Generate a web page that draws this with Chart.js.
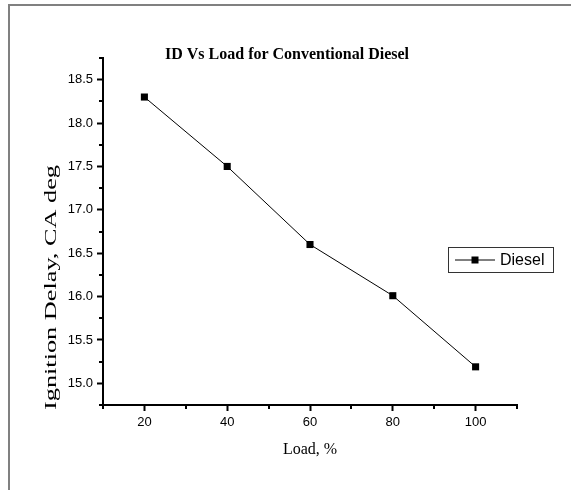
<!DOCTYPE html>
<html>
<head>
<meta charset="utf-8">
<script src="https://cdn.jsdelivr.net/npm/chart.js@4.4.1/dist/chart.umd.min.js"></script>
<style>
html, body { margin: 0; padding: 0; background: #ffffff; }
#wrap { width: 571px; height: 490px; }
canvas { display: block; }
</style>
</head>
<body>
<div id="wrap"><canvas id="c" width="571" height="490"></canvas></div>
<script>
// ---- data ----
const loads = [20, 40, 60, 80, 100];
const dieselID = [18.3, 17.5, 16.6, 16.01, 15.19];
const xMajorTicks = [20, 40, 60, 80, 100];
const xMinorTicks = [10, 30, 50, 70, 90, 110];
const yMajorTicks = [15.0, 15.5, 16.0, 16.5, 17.0, 17.5, 18.0, 18.5];
const yMinorTicks = [14.75, 15.25, 15.75, 16.25, 16.75, 17.25, 17.75, 18.25, 18.75];
const chartTitle = 'ID Vs Load for Conventional Diesel';
const xAxisTitle = 'Load, %';
const yAxisTitle = 'Ignition Delay, CA deg';
const seriesName = 'Diesel';

const SANS = '"Liberation Sans", Arial, sans-serif';
const SERIF = '"Liberation Serif", "Times New Roman", serif';

const decor = {
  id: 'decor',
  beforeDraw(chart) {
    const ctx = chart.ctx;
    ctx.save();
    ctx.fillStyle = '#ffffff';
    ctx.fillRect(0, 0, chart.width, chart.height);
    // outer frame (top and left)
    ctx.strokeStyle = '#808080';
    ctx.lineWidth = 2;
    ctx.beginPath();
    ctx.moveTo(9, chart.height);
    ctx.lineTo(9, 5);
    ctx.lineTo(chart.width, 5);
    ctx.stroke();
    ctx.restore();
  },
  afterDraw(chart) {
    const ctx = chart.ctx;
    const xs = chart.scales.x, ys = chart.scales.y;
    const area = chart.chartArea;
    ctx.save();
    // minor ticks
    ctx.strokeStyle = '#000';
    ctx.lineWidth = 2;
    ctx.beginPath();
    yMinorTicks.forEach(v => {
      const py = Math.round(ys.getPixelForValue(v));
      ctx.moveTo(area.left, py);
      ctx.lineTo(area.left - 4, py);
    });
    xMinorTicks.forEach(v => {
      const px = Math.round(xs.getPixelForValue(v));
      ctx.moveTo(px, area.bottom);
      ctx.lineTo(px, area.bottom + 4);
    });
    ctx.stroke();

    // title
    ctx.fillStyle = '#000';
    ctx.font = 'bold 16px ' + SERIF;
    ctx.textAlign = 'center';
    ctx.textBaseline = 'alphabetic';
    ctx.fillText(chartTitle, 287, 59);

    // y axis title (elongated along its direction as in the reference)
    ctx.save();
    ctx.font = '17px ' + SERIF;
    ctx.translate(52, 410);
    ctx.rotate(-Math.PI / 2);
    const w = ctx.measureText(yAxisTitle).width;
    ctx.scale(245 / w, 1);
    ctx.textAlign = 'left';
    ctx.textBaseline = 'middle';
    ctx.fillText(yAxisTitle, 0, 0);
    ctx.restore();

    // legend
    const ds = chart.data.datasets[0];
    const bx = 448, by = 247, bw = 105, bh = 25;
    ctx.fillStyle = '#fff';
    ctx.fillRect(bx, by, bw, bh);
    ctx.strokeStyle = '#333';
    ctx.lineWidth = 1;
    ctx.strokeRect(bx + 0.5, by + 0.5, bw, bh);
    const cy = by + bh / 2 + 0.5;
    ctx.strokeStyle = ds.borderColor;
    ctx.lineWidth = ds.borderWidth;
    ctx.beginPath();
    ctx.moveTo(455, cy);
    ctx.lineTo(495, cy);
    ctx.stroke();
    ctx.fillStyle = ds.pointBackgroundColor;
    ctx.fillRect(475 - 3.5, cy - 3.5, 7, 7);
    ctx.fillStyle = '#000';
    ctx.font = '16px ' + SANS;
    ctx.textAlign = 'left';
    ctx.textBaseline = 'middle';
    ctx.fillText(ds.label, 500, cy + 1);
    ctx.restore();
  }
};

new Chart(document.getElementById('c'), {
  type: 'line',
  data: {
    datasets: [{
      label: seriesName,
      data: loads.map((x, i) => ({ x: x, y: dieselID[i] })),
      borderColor: '#000000',
      borderWidth: 1,
      backgroundColor: '#000000',
      pointBackgroundColor: '#000000',
      pointBorderWidth: 0,
      pointStyle: 'rect',
      pointRadius: 5,
      tension: 0,
      fill: false
    }]
  },
  options: {
    responsive: false,
    animation: false,
    devicePixelRatio: 1,
    layout: { padding: { left: 0, right: 54, top: 58, bottom: 0 } },
    plugins: {
      legend: { display: false },
      title: { display: false },
      tooltip: { enabled: false }
    },
    scales: {
      x: {
        type: 'linear',
        min: 10,
        max: 110,
        afterBuildTicks: s => { s.ticks = xMajorTicks.map(v => ({ value: v })); },
        afterFit: s => { s.height = 85; },
        border: { display: true, color: '#000', width: 2 },
        grid: { display: true, drawOnChartArea: false, drawTicks: true, tickLength: 6, tickWidth: 2, tickColor: '#000' },
        ticks: { color: '#000', font: { family: SANS, size: 13 }, padding: 4, maxRotation: 0, callback: v => String(v) },
        title: { display: true, text: xAxisTitle, color: '#000', font: { family: SERIF, size: 16 }, padding: { top: 0, bottom: 30.4 } }
      },
      y: {
        type: 'linear',
        min: 14.75,
        max: 18.75,
        afterBuildTicks: s => { s.ticks = yMajorTicks.map(v => ({ value: v })); },
        afterFit: s => { s.width = 103; },
        border: { display: true, color: '#000', width: 2 },
        grid: { display: true, drawOnChartArea: false, drawTicks: true, tickLength: 6, tickWidth: 2, tickColor: '#000' },
        ticks: { color: '#000', font: { family: SANS, size: 13 }, padding: 4, callback: v => Number(v).toFixed(1) },
        title: { display: false, text: yAxisTitle }
      }
    }
  },
  plugins: [decor]
});
</script>
</body>
</html>
